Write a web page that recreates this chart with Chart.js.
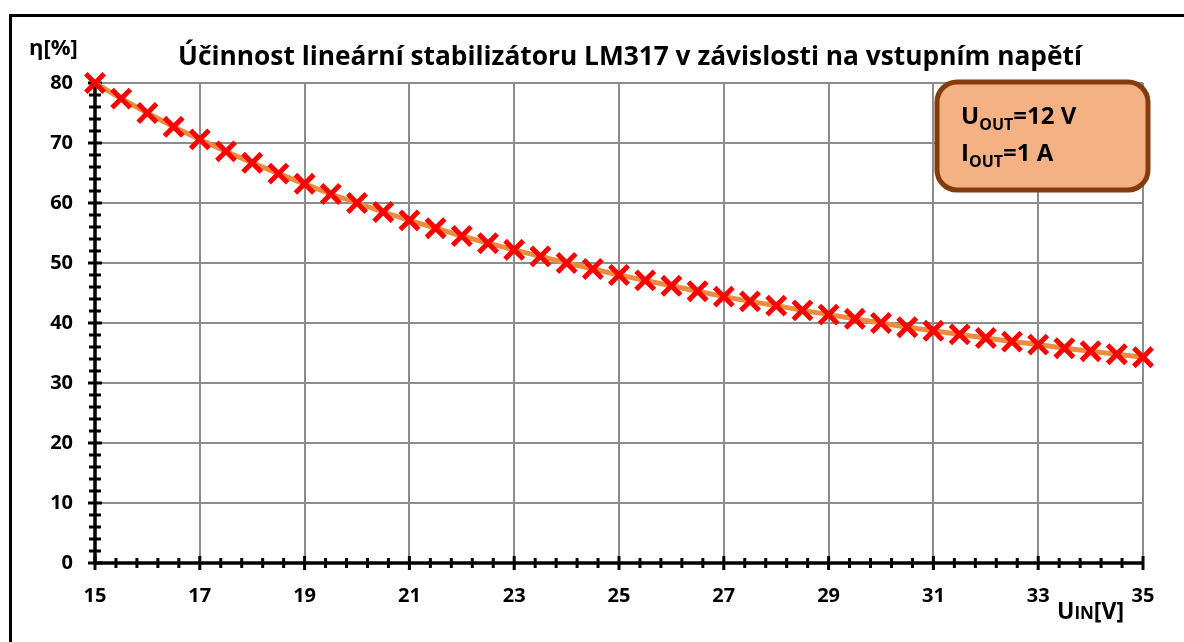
<!DOCTYPE html>
<html>
<head>
<meta charset="utf-8">
<script src="https://cdn.jsdelivr.net/npm/chart.js@4/dist/chart.umd.min.js"></script>
<style>
    html, body { margin: 0; padding: 0; background: #fff; }
    #chartBox { position: relative; width: 1184px; height: 642px; }
</style>
</head>
<body>
<div id="chartBox"><canvas id="efficiencyChart" width="1184" height="642"></canvas></div>
<script>
// input voltage [V]
const uIn = [15, 15.5, 16, 16.5, 17, 17.5, 18, 18.5, 19, 19.5, 20, 20.5, 21, 21.5, 22, 22.5,
    23, 23.5, 24, 24.5, 25, 25.5, 26, 26.5, 27, 27.5, 28, 28.5, 29, 29.5, 30, 30.5,
    31, 31.5, 32, 32.5, 33, 33.5, 34, 34.5, 35];
// efficiency [%]
const eta = [80, 77.4, 75, 72.7, 70.6, 68.6, 66.7, 64.9, 63.2, 61.5, 60, 58.5, 57.1, 55.8, 54.5, 53.3,
    52.2, 51.1, 50, 49, 48, 47.1, 46.2, 45.3, 44.4, 43.6, 42.9, 42.1, 41.4, 40.7, 40, 39.3,
    38.7, 38.1, 37.5, 36.9, 36.4, 35.8, 35.3, 34.8, 34.3];

const xTicks = [15, 17, 19, 21, 23, 25, 27, 29, 31, 33, 35];
const yTicks = [0, 10, 20, 30, 40, 50, 60, 70, 80];

const titleText = 'Účinnost lineární stabilizátoru LM317 v závislosti na vstupním napětí';
const FONT = '"Open Sans", Lato, sans-serif';

// minor tick marks crossing both axes, drawn through the chart's own scales
const axisTicksPlugin = {
    id: 'axisTicks',
    beforeDatasetsDraw(chart) {
        const ctx = chart.ctx;
        const xs = chart.scales.x;
        const ys = chart.scales.y;
        const x0 = xs.left;
        const y0 = ys.bottom;
        ctx.save();
        ctx.strokeStyle = '#000';
        ctx.lineWidth = 3;
        for (let i = 0; i <= 50; i++) {
            const px = xs.getPixelForValue(15 + i * 0.4);
            const half = i % 5 === 0 ? 7 : 5;
            ctx.beginPath();
            ctx.moveTo(px, y0 - half);
            ctx.lineTo(px, y0 + half);
            ctx.stroke();
        }
        for (let i = 0; i <= 40; i++) {
            const py = ys.getPixelForValue(i * 2);
            const half = i % 5 === 0 ? 7 : 6;
            ctx.beginPath();
            ctx.moveTo(x0 - half, py);
            ctx.lineTo(x0 + half, py);
            ctx.stroke();
        }
        // axis lines
        ctx.lineWidth = 3.5;
        ctx.beginPath();
        ctx.moveTo(x0, ys.top);
        ctx.lineTo(x0, y0);
        ctx.lineTo(xs.right, y0);
        ctx.stroke();
        ctx.restore();
    }
};

function drawSub(ctx, x, y, big, small, rest, bigSize, smallSize) {
    ctx.font = 'bold ' + bigSize + 'px ' + FONT;
    ctx.fillText(big, x, y);
    x += ctx.measureText(big).width;
    ctx.font = 'bold ' + smallSize + 'px ' + FONT;
    ctx.fillText(small, x, y + 6);
    x += ctx.measureText(small).width;
    ctx.font = 'bold ' + bigSize + 'px ' + FONT;
    ctx.fillText(rest, x, y);
}

const decorPlugin = {
    id: 'decor',
    beforeDraw(chart) {
        const ctx = chart.ctx;
        ctx.save();
        ctx.fillStyle = '#fff';
        ctx.fillRect(0, 0, chart.width, chart.height);
        ctx.strokeStyle = '#000';
        ctx.lineWidth = 3;
        ctx.strokeRect(10.5, 15.5, chart.width + 20, chart.height + 20);
        ctx.restore();
    },
    afterDraw(chart) {
        const ctx = chart.ctx;
        ctx.save();
        ctx.fillStyle = '#000';
        ctx.textBaseline = 'alphabetic';

        // title, sized to span the same width as the original
        ctx.font = 'bold 24px ' + FONT;
        const size = 24 * 905 / ctx.measureText(titleText).width;
        ctx.font = 'bold ' + size.toFixed(1) + 'px ' + FONT;
        ctx.textAlign = 'center';
        ctx.fillText(titleText, 630, 65);

        // y axis title
        ctx.textAlign = 'left';
        ctx.font = 'bold 22px ' + FONT;
        ctx.fillText('η[%]', 29, 55);

        // x axis title
        ctx.font = 'bold 23px ' + FONT;
        ctx.fillText('U', 1057, 619);
        let x = 1057 + ctx.measureText('U').width;
        ctx.font = 'bold 17px ' + FONT;
        ctx.fillText('IN', x, 619);
        x += ctx.measureText('IN').width;
        ctx.font = 'bold 23px ' + FONT;
        ctx.fillText('[V]', x, 619);

        // note box
        const bx = 937, by = 82, bw = 211, bh = 108, r = 20;
        ctx.beginPath();
        ctx.roundRect(bx, by, bw, bh, r);
        ctx.fillStyle = '#F4B183';
        ctx.fill();
        ctx.lineWidth = 5;
        ctx.strokeStyle = '#843C0C';
        ctx.stroke();
        ctx.fillStyle = '#000';
        drawSub(ctx, 961, 124, 'U', 'OUT', '=12 V', 24, 16);
        drawSub(ctx, 961, 161, 'I', 'OUT', '=1 A', 24, 16);
        ctx.restore();
    }
};

const ctx = document.getElementById('efficiencyChart').getContext('2d');
const efficiencyChart = new Chart(ctx, {
    type: 'line',
    data: {
        datasets: [{
            label: 'η',
            data: uIn.map((u, i) => ({ x: u, y: eta[i] })),
            borderColor: '#F08A3C',
            borderWidth: 5,
            pointStyle: 'crossRot',
            pointRadius: 13,
            pointBorderWidth: 5,
            pointBorderColor: '#FF0000',
            pointBackgroundColor: '#FF0000',
            tension: 0,
            clip: false
        }]
    },
    options: {
        responsive: false,
        animation: false,
        layout: { padding: { top: 83, right: 41, left: 0, bottom: 0 } },
        plugins: {
            legend: { display: false },
            tooltip: { enabled: false }
        },
        scales: {
            x: {
                type: 'linear',
                min: 15,
                max: 35,
                afterBuildTicks: scale => { scale.ticks = xTicks.map(v => ({ value: v })); },
                afterFit: scale => { scale.height = 79; },
                ticks: {
                    color: '#000',
                    padding: 21,
                    maxRotation: 0,
                    autoSkip: false,
                    font: { family: FONT, size: 20, weight: 'bold' }
                },
                grid: { color: '#8C8C8C', lineWidth: 2, drawTicks: false },
                border: { display: false }
            },
            y: {
                min: 0,
                max: 80,
                afterBuildTicks: scale => { scale.ticks = yTicks.map(v => ({ value: v })); },
                afterFit: scale => { scale.width = 95; },
                ticks: {
                    color: '#000',
                    padding: 22,
                    autoSkip: false,
                    font: { family: FONT, size: 20, weight: 'bold' }
                },
                grid: { color: '#8C8C8C', lineWidth: 2, drawTicks: false },
                border: { display: false }
            }
        }
    },
    plugins: [decorPlugin, axisTicksPlugin]
});
</script>
</body>
</html>
